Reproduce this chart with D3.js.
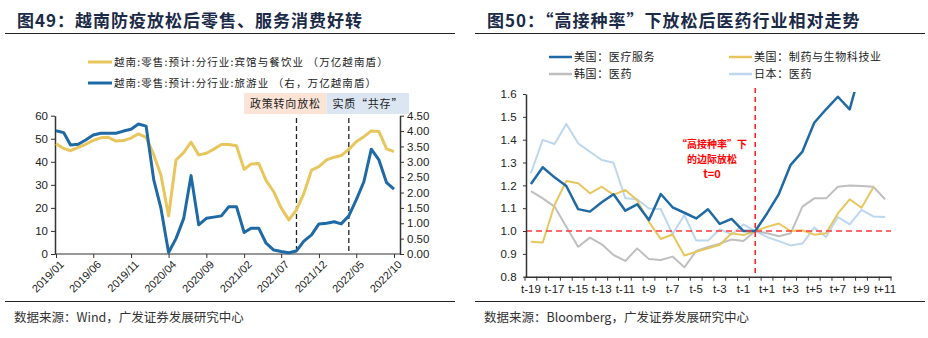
<!DOCTYPE html>
<meta charset="utf-8">
<style>
body { margin: 0; background: #fff; }
svg { display: block; }
.cn { font-family: "Noto Sans CJK SC", sans-serif; }
.title { font-size: 17px; font-weight: bold; fill: #1b2a47; letter-spacing: 1px; }
.axis .domain { stroke: #333; }
.axis line { stroke: #333; }
.axis text { font: 11px "Liberation Sans", Arial, sans-serif; fill: #222; }
</style>
<svg width="928" height="338"></svg>
<script src="https://d3js.org/d3.v7.min.js"></script>
<script>

// ---- left chart data: Vietnam retail (monthly 2019/01 .. 2022/10)
var hotelFood = [47.8, 45.8, 44.8, 46.3, 47.6, 49.3, 50.4, 50.6, 49.0, 49.2, 50.3,
  52.1, 50.6, 43.0, 34.3, 16.5, 40.8, 44.0, 48.5, 43.0, 43.7, 45.5, 47.5, 47.5, 47.0,
  36.7, 39.0, 39.3, 31.8, 27.0, 20.0, 14.8, 19.1, 26.3, 36.4, 37.9, 40.8, 42.0, 42.7,
  45.4, 48.7, 50.9, 53.4, 53.1, 45.6, 44.4];
var tourism = [4.01, 3.95, 3.55, 3.57, 3.71, 3.87, 3.93, 3.93, 3.93, 4.00, 4.06,
  4.23, 4.16, 2.41, 1.49, 0.05, 0.50, 1.15, 2.55, 0.95, 1.16, 1.20, 1.24, 1.54, 1.54,
  0.70, 0.84, 0.84, 0.35, 0.13, 0.08, 0.04, 0.10, 0.42, 0.62, 0.98, 1.00, 1.05, 0.98,
  1.24, 1.76, 2.35, 3.41, 3.06, 2.32, 2.11];
var leftNames = ["越南:零售:预计:分行业:宾馆与餐饮业 （万亿越南盾）",
                 "越南:零售:预计:分行业:旅游业 （右，万亿越南盾）"];
var leftTicks = [0, 10, 20, 30, 40, 50, 60];
var rightTicks = [0, 0.5, 1, 1.5, 2, 2.5, 3, 3.5, 4, 4.5];
var policyMonths = ["2021/09", "2022/04"];   // dashed markers
var phases = [{label: "政策转向放松", from: "2021/02", to: "2022/01"},
              {label: "实质“共存”", from: "2022/01", to: "2022/12"}];

// ---- right chart data: relative performance around reopening (t=0)
var periods = [];
for (var k = -19; k <= 11; k++) periods.push(k === 0 ? "t0" : (k < 0 ? "t" + k : "t+" + k));
var usHealth = [1.206, 1.279, 1.235, 1.197, 1.096, 1.085, 1.126, 1.161, 1.089, 1.117, 1.048,
  1.162, 1.104, 1.080, 1.055, 1.095, 1.031, 1.053, 1.000, 1.000, 1.077, 1.162, 1.290, 1.348,
  1.474, 1.533, 1.588, 1.533, 1.720, null, null];
var usPharma = [0.953, 0.950, 1.114, 1.219, 1.209, 1.165, 1.194, 1.158, 1.180, 1.135, 1.040,
  0.965, 0.985, 0.893, 0.909, 0.924, 0.940, 0.990, 0.982, 1.000, 1.018, 1.033, 1.000, 1.003,
  0.984, 0.990, 1.077, 1.139, 1.102, 1.191, null];
var krPharma = [1.175, 1.143, 1.107, 1.019, 0.931, 0.971, 0.942, 0.895, 0.869, 0.924, 0.877,
  0.873, 0.888, 0.841, 0.913, 0.930, 0.945, 0.963, 0.956, 1.000, 0.990, 0.977, 0.990, 1.107,
  1.143, 1.143, 1.194, 1.199, 1.197, 1.194, 1.139];
var jpPharma = [1.253, 1.399, 1.381, 1.469, 1.384, 1.347, 1.311, 1.299, 1.143, 1.139, 1.099,
  1.096, 0.987, 1.070, 0.958, 0.958, 1.008, 0.985, 1.029, 1.000, 0.974, 0.956, 0.937, 0.945,
  1.015, 0.974, 1.061, 1.029, 1.093, 1.064, 1.061];
var rightSeries = [
  {name: "日本：医药", values: jpPharma, color: "#bdd7ee", w: 2},
  {name: "韩国：医药", values: krPharma, color: "#bfbfbf", w: 2},
  {name: "美国：制药与生物科技业", values: usPharma, color: "#e8c65e", w: 2},
  {name: "美国：医疗服务", values: usHealth, color: "#1f6aa5", w: 2.5}
];
var rYTicks = [0.8, 0.9, 1.0, 1.1, 1.2, 1.3, 1.4, 1.5, 1.6];

var svg = d3.select("svg");
var parse = d3.timeParse("%Y/%m"), fmt = d3.timeFormat("%Y/%m");
var months = d3.timeMonth.range(parse("2019/01"), parse("2022/11"));

// ===== titles and footers
function header(x0, x1, text) {
  svg.append("text").attr("class", "cn title").attr("x", x0 + 12).attr("y", 27).text(text);
  svg.append("line").attr("x1", x0).attr("x2", x1).attr("y1", 33.5).attr("y2", 33.5)
    .attr("stroke", "#222").attr("stroke-width", 1);
}
header(5, 455, "图49：越南防疫放松后零售、服务消费好转");
header(475, 925, "图50：“高接种率”下放松后医药行业相对走势");

function footer(x0, x1, text) {
  svg.append("line").attr("x1", x0).attr("x2", x1).attr("y1", 301.5).attr("y2", 301.5)
    .attr("stroke", "#222").attr("stroke-width", 1);
  svg.append("text").attr("class", "cn").attr("x", x0 + 9).attr("y", 322)
    .style("font-size", "12.5px").attr("fill", "#333").text(text);
}
footer(5, 455, "数据来源：Wind，广发证券发展研究中心");
footer(475, 925, "数据来源：Bloomberg，广发证券发展研究中心");

// ===== left chart
var L = {left: 55, right: 400, top: 115.7, bottom: 254};
var x = d3.scaleTime().domain([months[0], months[months.length - 1]]).range([56, 394]);
var yL = d3.scaleLinear().domain([0, 60]).range([L.bottom, L.top]);
var yR = d3.scaleLinear().domain([0, 4.5]).range([L.bottom, L.top]);

var gL = svg.append("g");

phases.forEach(function(p, i) {
  var a = x(parse(p.from)), b = Math.min(x(parse(p.to)), 410);
  gL.append("rect").attr("x", a).attr("y", 93).attr("width", b - a).attr("height", 21)
    .attr("fill", i === 0 ? "#fbe4d6" : "#dce6f2");
  gL.append("text").attr("class", "cn").attr("x", (a + b) / 2).attr("y", 108)
    .attr("text-anchor", "middle").style("font-size", "11px").style("letter-spacing", "0.8px")
    .attr("fill", "#222").text(p.label);
});

policyMonths.forEach(function(m) {
  gL.append("line").attr("x1", x(parse(m))).attr("x2", x(parse(m)))
    .attr("y1", 118).attr("y2", L.bottom)
    .attr("stroke", "#222").attr("stroke-width", 1.3).attr("stroke-dasharray", "5,3");
});

var xAxis = gL.append("g").attr("class", "axis").attr("transform", "translate(0," + L.bottom + ")")
  .call(d3.axisBottom(x).tickValues(d3.range(0, 46, 5).map(function(i) { return months[i]; }))
    .tickFormat(fmt).tickSize(4).tickSizeOuter(0));
xAxis.select(".domain").attr("d", "M" + L.left + ",0H" + L.right).attr("stroke", "#111").attr("stroke-width", 1.2);
xAxis.selectAll("text").attr("text-anchor", "end").attr("dx", "-0.2em").attr("dy", "0.6em")
  .attr("transform", "rotate(-45)");

var yAxL = gL.append("g").attr("class", "axis").attr("transform", "translate(" + L.left + ",0)")
  .call(d3.axisLeft(yL).tickValues(leftTicks).tickSize(4).tickSizeOuter(0));
yAxL.select(".domain").attr("stroke", "#555").attr("stroke-width", 1.5);
yAxL.selectAll("text").style("font-size", "11.5px");

var yAxR = gL.append("g").attr("class", "axis").attr("transform", "translate(" + L.right + ",0)")
  .call(d3.axisRight(yR).tickValues(rightTicks).tickFormat(d3.format(".2f")).tickSize(4).tickSizeOuter(0));
yAxR.select(".domain").attr("stroke", "#222").attr("stroke-width", 1.5);
yAxR.selectAll("text").style("font-size", "11.5px");

var lineL = d3.line().x(function(d, i) { return x(months[i]); }).y(function(d) { return yL(d); });
var lineR = d3.line().x(function(d, i) { return x(months[i]); }).y(function(d) { return yR(d); });
gL.append("path").datum(hotelFood).attr("d", lineL).attr("fill", "none")
  .attr("stroke", "#e8c65e").attr("stroke-width", 3).attr("stroke-linejoin", "round");
gL.append("path").datum(tourism).attr("d", lineR).attr("fill", "none")
  .attr("stroke", "#1f6aa5").attr("stroke-width", 3).attr("stroke-linejoin", "round");

[["#e8c65e", 62], ["#1f6aa5", 83]].forEach(function(c, i) {
  gL.append("line").attr("x1", 88).attr("x2", 112).attr("y1", c[1]).attr("y2", c[1])
    .attr("stroke", c[0]).attr("stroke-width", 3);
  gL.append("text").attr("class", "cn").attr("x", 114).attr("y", c[1] + 4)
    .style("font-size", "10.5px").style("letter-spacing", "1.1px").attr("fill", "#222").text(leftNames[i]);
});

// ===== right chart
var R = {left: 525, right: 891, top: 94, bottom: 276.7};
var xb = d3.scaleBand().domain(periods).range([R.left, R.right]);
var y2 = d3.scaleLinear().domain([0.8, 1.6]).range([R.bottom, R.top]);
var cx = function(i) { return xb(periods[i]) + xb.bandwidth() / 2; };
var gR = svg.append("g");

svg.append("defs").append("clipPath").attr("id", "clipR").append("rect")
  .attr("x", R.left).attr("y", R.top - 2).attr("width", R.right - R.left).attr("height", R.bottom - R.top + 2);
var blur = svg.select("defs").append("filter").attr("id", "soft");
blur.append("feGaussianBlur").attr("stdDeviation", 2.5);

// reference line at 1.0 with a soft shadow
gR.append("line").attr("x1", R.left + 1).attr("x2", R.right).attr("y1", y2(1) + 6).attr("y2", y2(1) + 6)
  .attr("stroke", "#d9d9d9").attr("stroke-width", 6).attr("filter", "url(#soft)");

rightSeries.forEach(function(s) {
  gR.append("path").datum(s.values).attr("clip-path", "url(#clipR)")
    .attr("d", d3.line().defined(function(d) { return d != null; })
      .x(function(d, i) { return cx(i); }).y(function(d) { return y2(d); }))
    .attr("fill", "none").attr("stroke", s.color).attr("stroke-width", s.w)
    .attr("stroke-linejoin", "round");
});

gR.append("line").attr("x1", R.left + 1).attr("x2", R.right).attr("y1", y2(1)).attr("y2", y2(1))
  .attr("stroke", "#ff3b3b").attr("stroke-width", 1.5).attr("stroke-dasharray", "6,4");
var t0 = cx(periods.indexOf("t0"));
gR.append("line").attr("x1", t0).attr("x2", t0).attr("y1", 88).attr("y2", R.bottom)
  .attr("stroke", "#ff1a1a").attr("stroke-width", 1.5).attr("stroke-dasharray", "5,4");

var ax2 = gR.append("g").attr("class", "axis").attr("transform", "translate(0," + R.bottom + ")")
  .call(d3.axisBottom(xb).tickSize(0).tickFormat(function(d, i) { return i % 2 === 0 ? d : ""; }));
ax2.select(".domain").attr("stroke", "#444").attr("stroke-width", 1.5);
ax2.selectAll("text").attr("dy", "1.2em").style("font-size", "11.5px");
ax2.selectAll(".bnd").data(periods.concat(["end"])).enter().append("line")
  .attr("x1", function(d, i) { return R.left + i * xb.step(); })
  .attr("x2", function(d, i) { return R.left + i * xb.step(); })
  .attr("y1", 0).attr("y2", 4).attr("stroke", "#444");

var ay2 = gR.append("g").attr("class", "axis").attr("transform", "translate(" + (R.left + 1) + ",0)")
  .call(d3.axisLeft(y2).tickValues(rYTicks).tickFormat(d3.format(".1f")).tickSize(3).tickSizeOuter(0));
ay2.select(".domain").attr("stroke", "#555").attr("stroke-width", 1.5);
ay2.selectAll("text").style("font-size", "11.5px").attr("dx", "-0.3em");

// annotation
var note = gR.append("text").attr("class", "cn").attr("text-anchor", "middle")
  .attr("fill", "#ff0000").style("font-weight", "bold").style("font-size", "10px");
["“高接种率”下", "的边际放松", "t=0"].forEach(function(t, i) {
  note.append("tspan").attr("x", 712).attr("y", 148 + i * 15)
    .style("font-size", i === 2 ? "11px" : "10px").text(t);
});

// legend
var legendOrder = [3, 2, 1, 0];
legendOrder.forEach(function(si, j) {
  var s = rightSeries[si];
  var lx = j % 2 === 0 ? 549 : 729, ly = j < 2 ? 57 : 74;
  gR.append("line").attr("x1", lx).attr("x2", lx + 23).attr("y1", ly).attr("y2", ly)
    .attr("stroke", s.color).attr("stroke-width", 2.5);
  gR.append("text").attr("class", "cn").attr("x", lx + 25).attr("y", ly + 4)
    .style("font-size", "11px").style("letter-spacing", "0.6px").attr("fill", "#222").text(s.name);
});

</script>
